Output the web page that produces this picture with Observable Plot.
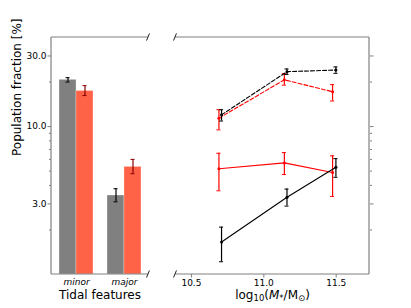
<!DOCTYPE html>
<html><head><meta charset="utf-8">
<script src="https://cdn.jsdelivr.net/npm/d3@7"></script>
<script src="https://cdn.jsdelivr.net/npm/@observablehq/plot@0.6"></script>
<style>
body{margin:0;background:#fff}
#chart{position:relative;width:411px;height:308px;font-family:"DejaVu Sans",sans-serif}
#chart svg{position:absolute;top:0}
</style>
</head><body><div id="chart"></div>
<script>
// ---- data ----
const categories = ["minor", "major"];
const barValuesGrey = [20.7, 3.42];
const barLoGrey = [20.0, 3.1];
const barHiGrey = [21.4, 3.8];
const barValuesRed = [17.4, 5.34];
const barLoRed = [16.2, 4.8];
const barHiRed = [18.9, 6.0];

const massBlack = [10.708, 11.16, 11.498];
const massRed = [10.69, 11.142, 11.475];
const blackMinor = [12.0, 23.5, 24.1];
const blackMinorLo = [10.9, 22.5, 22.9];
const blackMinorHi = [13.0, 24.5, 25.3];
const redMinor = [11.4, 20.7, 17.2];
const redMinorLo = [9.5, 19.05, 14.9];
const redMinorHi = [13.0, 22.8, 19.2];
const redMajor = [5.18, 5.68, 4.89];
const redMajorLo = [3.68, 4.74, 3.37];
const redMajorHi = [6.6, 6.67, 6.34];
const blackMajor = [1.66, 3.33, 5.31];
const blackMajorLo = [1.22, 2.90, 4.54];
const blackMajorHi = [2.09, 3.78, 6.07];

const yDomain = [1, 40];
const xDomain = [10.39, 11.73];
const yMajorTicks = [3, 10, 30];
const yMinorTicks = [2, 4, 5, 6, 7, 8, 9, 20];
const xTicks = [10.5, 11.0, 11.5];

// ---- styles ----
const spineColor = "#808080";
const greyBar = "#808080", redBar = "#ff6347";
const font = "DejaVu Sans";

// ---- helpers ----
function spines(sides) {
  return (index, scales, values, dims) => {
    const g = d3.create("svg:g").attr("stroke", spineColor).attr("stroke-width", 1.2).attr("fill", "none");
    const l = dims.marginLeft, r = dims.width - dims.marginRight, t = dims.marginTop, b = dims.height - dims.marginBottom;
    if (sides.includes("top")) g.append("line").attr("x1", l).attr("x2", r).attr("y1", t).attr("y2", t);
    if (sides.includes("bottom")) g.append("line").attr("x1", l).attr("x2", r).attr("y1", b).attr("y2", b);
    if (sides.includes("left")) g.append("line").attr("x1", l).attr("x2", l).attr("y1", t).attr("y2", b);
    if (sides.includes("right")) g.append("line").attr("x1", r).attr("x2", r).attr("y1", t).attr("y2", b);
    return g.node();
  };
}
function breaks(side, frac) {
  return (index, scales, values, dims) => {
    const g = d3.create("svg:g").attr("stroke", "#222").attr("stroke-width", 1).attr("fill", "none");
    const l = dims.marginLeft, r = dims.width - dims.marginRight, t = dims.marginTop, b = dims.height - dims.marginBottom;
    const x = side === "right" ? r : l;
    const dx = (r - l) * frac, dy = (b - t) * 0.015;
    for (const y of [t, b]) g.append("line").attr("x1", x - dx).attr("y1", y + dy).attr("x2", x + dx).attr("y2", y - dy);
    return g.node();
  };
}

// ---- left panel ----
const lw = 160, lml = 51, lmr = 12;
const pi = 0.3, po = 0.15;
const step = (lw - lml - lmr) / (categories.length - pi + 2 * po);
const bw = step * (1 - pi);
const capHalf = 2;

const barsGrey = categories.map((c, i) => ({cat: c, base: yDomain[0], value: barValuesGrey[i], lo: barLoGrey[i], hi: barHiGrey[i]}));
const barsRed = categories.map((c, i) => ({cat: c, base: yDomain[0], value: barValuesRed[i], lo: barLoRed[i], hi: barHiRed[i]}));

const left = Plot.plot({
  width: lw, height: 308, marginLeft: lml, marginRight: lmr, marginTop: 37, marginBottom: 34,
  style: {fontFamily: font, fontSize: "9px", background: "transparent", color: "#000", overflow: "visible"},
  x: {type: "band", domain: categories, paddingInner: pi, paddingOuter: po},
  y: {type: "log", domain: yDomain},
  marks: [
    Plot.barY(barsGrey, {x: "cat", y1: "base", y2: "value", fill: greyBar, insetRight: bw / 2, stroke: "#fff", strokeWidth: 0.5, strokeOpacity: 0.6}),
    Plot.barY(barsRed, {x: "cat", y1: "base", y2: "value", fill: redBar, insetLeft: bw / 2, stroke: "#fff", strokeWidth: 0.5, strokeOpacity: 0.6}),
    Plot.ruleX(barsGrey, {x: "cat", y1: "lo", y2: "hi", dx: -bw / 4, stroke: "#000", strokeWidth: 1.2}),
    Plot.tickY(barsGrey, {x: "cat", y: "lo", insetLeft: bw / 4 - capHalf, insetRight: 3 * bw / 4 - capHalf, stroke: "#000", strokeWidth: 1}),
    Plot.tickY(barsGrey, {x: "cat", y: "hi", insetLeft: bw / 4 - capHalf, insetRight: 3 * bw / 4 - capHalf, stroke: "#000", strokeWidth: 1}),
    Plot.ruleX(barsRed, {x: "cat", y1: "lo", y2: "hi", dx: bw / 4, stroke: "#8b0000", strokeWidth: 1.2}),
    Plot.tickY(barsRed, {x: "cat", y: "lo", insetLeft: 3 * bw / 4 - capHalf, insetRight: bw / 4 - capHalf, stroke: "#8b0000", strokeWidth: 1}),
    Plot.tickY(barsRed, {x: "cat", y: "hi", insetLeft: 3 * bw / 4 - capHalf, insetRight: bw / 4 - capHalf, stroke: "#8b0000", strokeWidth: 1}),
    spines(["top", "bottom", "left"]),
    breaks("right", 0.015),
    Plot.axisY(yMajorTicks, {tickSize: 3.5, tickPadding: 1.5, tickFormat: d3.format(".1f"), label: null, stroke: spineColor, fill: "#000"}),
    Plot.axisY(yMinorTicks, {tickSize: 2, tickFormat: () => "", label: null, stroke: spineColor}),
    Plot.axisX({tickSize: 0, tickPadding: 4.5, fontStyle: "italic", label: null, fill: "#000"}),
    Plot.text(["Tidal features"], {text: d => d, frameAnchor: "bottom", dy: 24, fontSize: 12, fill: "#000"}),
    Plot.text(["Population fraction [%]"], {text: d => d, frameAnchor: "left", dx: -34, rotate: -90, fontSize: 12, fill: "#000"})
  ]
});

// ---- right panel ----
function series(xs, ys, lo, hi) { return xs.map((x, i) => ({x, y: ys[i], lo: lo[i], hi: hi[i]})); }
const sBlackMinor = series(massBlack, blackMinor, blackMinorLo, blackMinorHi);
const sRedMinor = series(massRed, redMinor, redMinorLo, redMinorHi);
const sRedMajor = series(massRed, redMajor, redMajorLo, redMajorHi);
const sBlackMajor = series(massBlack, blackMajor, blackMajorLo, blackMajorHi);
const cap = 0.014;

function seriesMarks(data, color, dash) {
  return [
    Plot.line(data, {x: "x", y: "y", stroke: color, strokeWidth: 1.1, strokeDasharray: dash}),
    Plot.ruleX(data, {x: "x", y1: "lo", y2: "hi", stroke: color, strokeWidth: 1.2}),
    Plot.ruleY(data, {x1: d => d.x - cap, x2: d => d.x + cap, y: "lo", stroke: color, strokeWidth: 1}),
    Plot.ruleY(data, {x1: d => d.x - cap, x2: d => d.x + cap, y: "hi", stroke: color, strokeWidth: 1}),
    Plot.dot(data, {x: "x", y: "y", r: 1.5, fill: color})
  ];
}

const right = Plot.plot({
  width: 251, height: 308, marginLeft: 15, marginRight: 42, marginTop: 37, marginBottom: 34,
  style: {fontFamily: font, fontSize: "9px", background: "transparent", color: "#000", overflow: "visible"},
  x: {domain: xDomain},
  y: {type: "log", domain: yDomain},
  marks: [
    ...seriesMarks(sRedMinor, "#ff0000", "4,2"),
    ...seriesMarks(sRedMajor, "#ff0000", null),
    ...seriesMarks(sBlackMinor, "#000", "4,2"),
    ...seriesMarks(sBlackMajor, "#000", null),
    spines(["top", "bottom", "right"]),
    breaks("left", 0.0075),
    Plot.axisX(xTicks, {tickSize: 3.5, tickPadding: 1.5, tickFormat: d3.format(".1f"), label: null, stroke: spineColor, fill: "#000"}),
    Plot.axisY(yMajorTicks, {anchor: "right", tickSize: 3.5, tickFormat: () => "", label: null, stroke: spineColor}),
    Plot.axisY(yMinorTicks, {anchor: "right", tickSize: 2, tickFormat: () => "", label: null, stroke: spineColor}),
    Plot.text(["log10(M*/M⊙)"], {text: d => d, frameAnchor: "bottom", dy: 24, fontSize: 12, fill: "#000"})
  ]
});

const chart = document.getElementById("chart");
left.style.left = "0px";
right.style.left = "160px";
chart.append(left, right);

// rich label with subscripts / italics
d3.select(right).selectAll("text").filter(function() { return this.textContent === "log10(M*/M⊙)"; }).each(function() {
  const t = d3.select(this);
  t.text(null);
  const parts = [
    {s: "log"}, {s: "10", sub: true}, {s: "("}, {s: "M", it: true}, {s: "*", sub: true},
    {s: "/M"}, {s: "⊙", sub: true}, {s: ")"}
  ];
  let shifted = false;
  for (const p of parts) {
    const ts = t.append("tspan").text(p.s);
    if (p.sub && !shifted) { ts.attr("dy", 2.5).attr("font-size", 8.5); shifted = true; }
    else if (p.sub) ts.attr("font-size", 8.5);
    else if (shifted) { ts.attr("dy", -2.5); shifted = false; }
    if (p.it) ts.attr("font-style", "italic");
  }
});
</script></body></html>
